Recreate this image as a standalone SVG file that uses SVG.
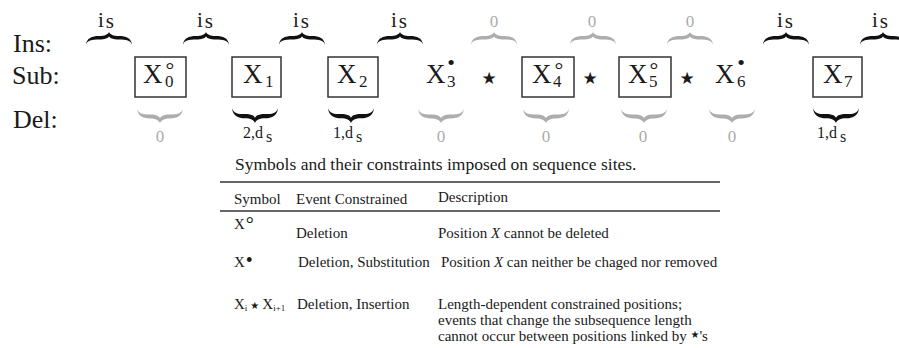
<svg xmlns="http://www.w3.org/2000/svg" xmlns:xlink="http://www.w3.org/1999/xlink" width="899" height="348" viewBox="0 0 899 348">
<style>
text{font-family:"Liberation Serif","Times New Roman",serif;fill:#1a1a1a}
.row{font-size:26px}
.x{font-size:27px}
.sb{font-size:17px}
.sp{font-size:22px}
.star{font-family:"DejaVu Sans",sans-serif;font-size:17px}
.lab{font-size:21px}
.dl{font-size:16px}
.g{fill:#ababab;font-size:17px}
.box{fill:none;stroke:#333;stroke-width:1.5}
.bk{fill:#111}
.gr{fill:#adadad}
.tb{font-size:15px}
.rule{stroke:#333;stroke-width:1.5}
</style>
<defs>
<path id="br" d="M0,13 C0.5,6 6,4 13,4 C18.5,4 22,2.5 23,0 C24,2.5 27.5,4 33,4 C40,4 45.5,6 46,13 C45,8 40,7.4 33,7.4 C27,7.4 24,6 23,4.4 C22,6 19,7.4 13,7.4 C6,7.4 1,8 0,13 Z"/>
</defs>

<g id="row-labels">
<text class="row" x="13" y="52">Ins:</text>
<text class="row" x="12" y="84">Sub:</text>
<text class="row" x="13" y="128">Del:</text>
</g>

<g id="sequence">
<g id="x0"><rect class="box" x="135" y="57" width="51" height="40"/><text class="x" x="143" y="83">X<tspan class="sb" dx="2.5" dy="4">0</tspan><tspan class="sp" dx="-8" dy="-10">°</tspan></text></g>
<g id="x1"><rect class="box" x="232" y="57" width="49" height="40"/><text class="x" x="243" y="83">X<tspan class="sb" dx="2.5" dy="4">1</tspan></text></g>
<g id="x2"><rect class="box" x="328" y="57" width="50" height="40"/><text class="x" x="337" y="83">X<tspan class="sb" dx="2.5" dy="4">2</tspan></text></g>
<g id="x3"><text class="x" x="426" y="83">X<tspan class="sb" dx="1.5" dy="4">3</tspan><tspan class="sp" dx="-8.3" dy="-17">•</tspan></text></g>
<g id="s34"><text class="star" x="489" y="84" text-anchor="middle">★</text></g>
<g id="x4"><rect class="box" x="522" y="57" width="52" height="40"/><text class="x" x="532" y="83">X<tspan class="sb" dx="1.5" dy="4">4</tspan><tspan class="sp" dx="-7" dy="-10">°</tspan></text></g>
<g id="s45"><text class="star" x="590" y="84" text-anchor="middle">★</text></g>
<g id="x5"><rect class="box" x="619" y="57" width="52" height="40"/><text class="x" x="628" y="83">X<tspan class="sb" dx="1.5" dy="4">5</tspan><tspan class="sp" dx="-7.9" dy="-10">°</tspan></text></g>
<g id="s56"><text class="star" x="687" y="84" text-anchor="middle">★</text></g>
<g id="x6"><text class="x" x="715" y="83">X<tspan class="sb" dx="2.5" dy="4">6</tspan><tspan class="sp" dx="-8.3" dy="-17">•</tspan></text></g>
<g id="x7"><rect class="box" x="813" y="57" width="49" height="40"/><text class="x" x="823" y="83">X<tspan class="sb" dx="1.5" dy="4">7</tspan></text></g>
</g>

<g id="insertions">
<use xlink:href="#br" class="bk" x="86" y="32"/><text class="lab" x="106" y="27" text-anchor="middle">i<tspan dx="2" dy="1">s</tspan></text>
<use xlink:href="#br" class="bk" x="183" y="32"/><text class="lab" x="205" y="27" text-anchor="middle">i<tspan dx="2" dy="1">s</tspan></text>
<use xlink:href="#br" class="bk" x="279" y="32"/><text class="lab" x="301" y="27" text-anchor="middle">i<tspan dx="2" dy="1">s</tspan></text>
<use xlink:href="#br" class="bk" x="377" y="32"/><text class="lab" x="399" y="27" text-anchor="middle">i<tspan dx="2" dy="1">s</tspan></text>
<use xlink:href="#br" class="gr" x="471" y="32"/><text class="g" x="494" y="27" text-anchor="middle">0</text>
<use xlink:href="#br" class="gr" x="570" y="32"/><text class="g" x="592" y="27" text-anchor="middle">0</text>
<use xlink:href="#br" class="gr" x="667" y="32"/><text class="g" x="690" y="27" text-anchor="middle">0</text>
<use xlink:href="#br" class="bk" x="763" y="32"/><text class="lab" x="785" y="27" text-anchor="middle">i<tspan dx="2" dy="1">s</tspan></text>
<use xlink:href="#br" class="bk" x="860" y="32"/><text class="lab" x="880" y="27" text-anchor="middle">i<tspan dx="2" dy="1">s</tspan></text>
</g>

<g id="deletions">
<use xlink:href="#br" class="gr" transform="translate(137,123) scale(1,-1.15)"/><text class="g" x="160" y="142" text-anchor="middle">0</text>
<use xlink:href="#br" class="bk" transform="translate(232,123) scale(1,-1.2)"/><text class="dl" x="243" y="138">2,d<tspan dx="3" dy="4">s</tspan></text>
<use xlink:href="#br" class="bk" transform="translate(328,123) scale(1,-1.2)"/><text class="dl" x="333" y="138">1,d<tspan dx="3" dy="4">s</tspan></text>
<use xlink:href="#br" class="gr" transform="translate(418,123) scale(1,-1.15)"/><text class="g" x="441" y="142" text-anchor="middle">0</text>
<use xlink:href="#br" class="gr" transform="translate(523,123) scale(1,-1.15)"/><text class="g" x="546" y="142" text-anchor="middle">0</text>
<use xlink:href="#br" class="gr" transform="translate(621,123) scale(1,-1.15)"/><text class="g" x="643" y="142" text-anchor="middle">0</text>
<use xlink:href="#br" class="gr" transform="translate(709,123) scale(1,-1.15)"/><text class="g" x="732" y="142" text-anchor="middle">0</text>
<use xlink:href="#br" class="bk" transform="translate(813,123) scale(1,-1.2)"/><text class="dl" x="817" y="138">1,d<tspan dx="3" dy="4">s</tspan></text>
</g>

<g id="table">
<text x="235" y="170" style="font-size:17.5px">Symbols and their constraints imposed on sequence sites.</text>
<line class="rule" x1="220" y1="182" x2="720" y2="182"/>
<text class="tb" x="234" y="204">Symbol</text>
<text class="tb" x="296" y="204">Event Constrained</text>
<text class="tb" x="438" y="202">Description</text>
<line class="rule" x1="220" y1="211" x2="720" y2="211"/>
<text class="tb" x="234" y="229">X<tspan dx="1" dy="2" font-size="20">°</tspan></text>
<text class="tb" x="296" y="238">Deletion</text>
<text class="tb" x="438" y="238">Position <tspan font-style="italic">X</tspan> cannot be deleted</text>
<text class="tb" x="234" y="267">X<tspan dx="1" dy="0" font-size="20">•</tspan></text>
<text class="tb" x="298" y="267">Deletion, Substitution</text>
<text class="tb" x="441" y="267">Position <tspan font-style="italic">X</tspan> can neither be chaged nor removed</text>
<text class="tb" x="234" y="309">X<tspan font-size="9" dy="2">i</tspan><tspan dx="3" dy="-2" style="font-family:'DejaVu Sans',sans-serif;font-size:10px">★</tspan><tspan dx="3">X</tspan><tspan font-size="9" dy="2">i+1</tspan></text>
<text class="tb" x="297" y="309">Deletion, Insertion</text>
<text class="tb" x="438" y="309">Length-dependent constrained positions;</text>
<text class="tb" x="438" y="325">events that change the subsequence length</text>
<text class="tb" x="438" y="341">cannot occur between positions linked by <tspan dy="-3" style="font-family:'DejaVu Sans',sans-serif;font-size:10px">★</tspan><tspan dy="3">'s</tspan></text>
</g>
</svg>
